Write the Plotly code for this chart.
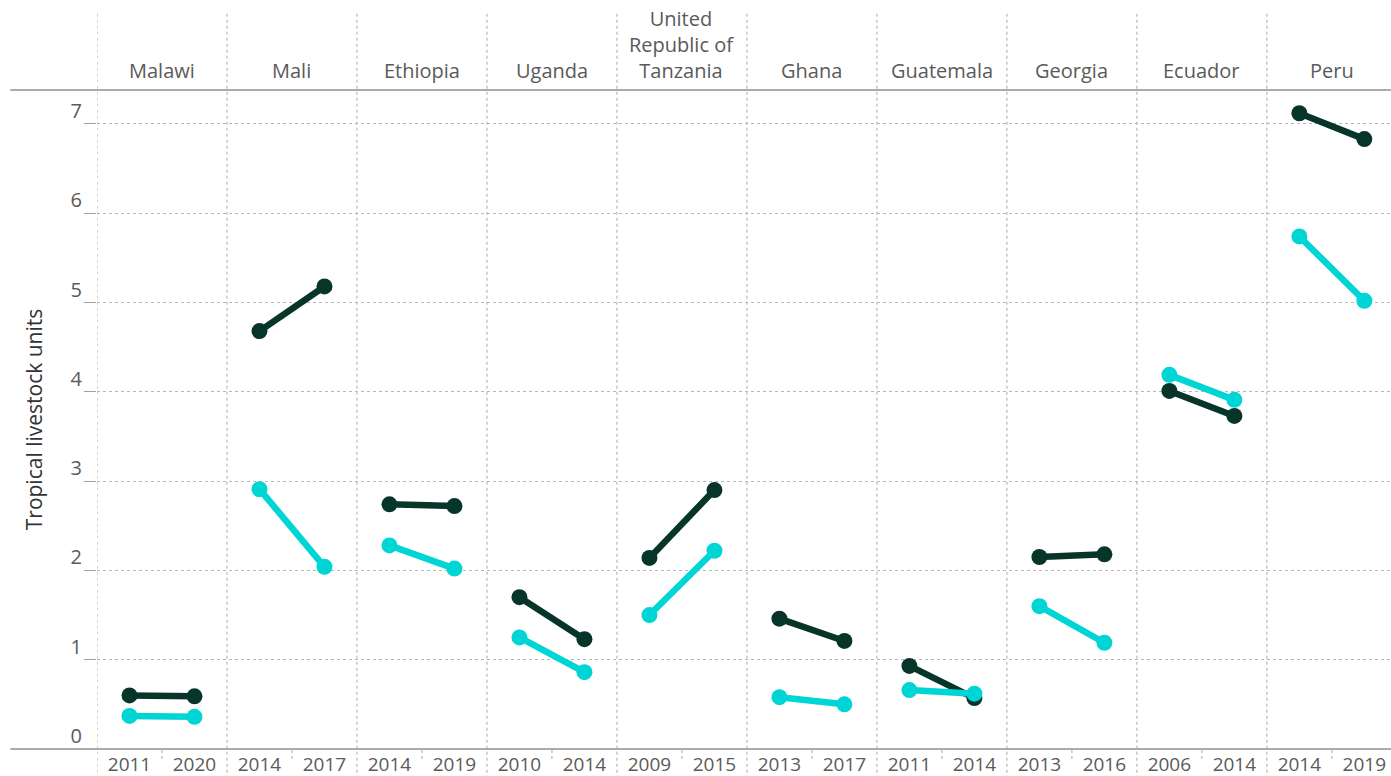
import plotly.graph_objects as go

# Countries and the two survey years shown for each
countries = ["Malawi", "Mali", "Ethiopia", "Uganda", "United<br>Republic of<br>Tanzania",
             "Ghana", "Guatemala", "Georgia", "Ecuador", "Peru"]
year_first = ["2011", "2014", "2014", "2010", "2009", "2013", "2011", "2013", "2006", "2014"]
year_last = ["2020", "2017", "2019", "2014", "2015", "2017", "2014", "2016", "2014", "2019"]

# Tropical livestock units per household (two series)
dark_first = [0.60, 4.68, 2.74, 1.70, 2.14, 1.46, 0.93, 2.15, 4.01, 7.12]
dark_last = [0.59, 5.18, 2.72, 1.23, 2.90, 1.21, 0.57, 2.18, 3.73, 6.83]
cyan_first = [0.37, 2.91, 2.28, 1.25, 1.50, 0.58, 0.66, 1.60, 4.19, 5.74]
cyan_last = [0.36, 2.04, 2.02, 0.86, 2.22, 0.50, 0.62, 1.19, 3.91, 5.02]

DARK = "#07352a"
CYAN = "#00d5d5"
GRID = "#b8b8b8"
TEXT = "#5a5a5a"
FONT = "Open Sans"

n = len(countries)


def segments(first, last):
    xs, ys = [], []
    for i in range(n):
        xs += [2 * i, 2 * i + 1, None]
        ys += [first[i], last[i], None]
    return xs, ys


fig = go.Figure()
for first, last, color in [(dark_first, dark_last, DARK), (cyan_first, cyan_last, CYAN)]:
    xs, ys = segments(first, last)
    fig.add_trace(go.Scatter(
        x=xs, y=ys, mode="lines+markers",
        line=dict(color=color, width=6.5),
        marker=dict(color=color, size=16),
        connectgaps=False, showlegend=False, hoverinfo="skip",
    ))

tickvals, ticktext = [], []
for i in range(n):
    tickvals += [2 * i, 2 * i + 1]
    ticktext += [year_first[i], year_last[i]]

shapes = []
# Panel separators spanning header and year labels
for i in range(n):
    shapes.append(dict(type="line", xref="x", yref="paper",
                       x0=2 * i - 0.5, x1=2 * i - 0.5, y0=-0.045, y1=1.118,
                       line=dict(color=GRID, width=1.2, dash="dot"), layer="below"))
    # short divider between the two years
    shapes.append(dict(type="line", xref="x", yref="paper",
                       x0=2 * i + 0.5, x1=2 * i + 0.5, y0=-0.015, y1=0,
                       line=dict(color=GRID, width=1.2, dash="dot"), layer="below"))
# Solid header and baseline rules
for yy in (0, 1):
    shapes.append(dict(type="line", xref="paper", yref="paper",
                       x0=-0.067, x1=1.0, y0=yy, y1=yy,
                       line=dict(color="#ababab", width=2)))

annotations = []
for i, name in enumerate(countries):
    annotations.append(dict(x=2 * i + 0.5, y=1.0, xref="x", yref="paper",
                            text=name, showarrow=False, yanchor="bottom", yshift=4,
                            font=dict(family=FONT, size=20, color=TEXT)))

fig.update_layout(
    width=1391, height=776,
    margin=dict(l=97, r=0, t=90, b=27),
    paper_bgcolor="white", plot_bgcolor="white",
    shapes=shapes, annotations=annotations,
    font=dict(family=FONT, color=TEXT),
    xaxis=dict(range=[-0.5, 19.41], tickvals=tickvals, ticktext=ticktext,
               showgrid=False, zeroline=False, showline=False, ticks="",
               automargin=False,
               tickfont=dict(size=19, color=TEXT), ticklabelstandoff=2),
    yaxis=dict(range=[0, 7.38], tickvals=list(range(8)),
               showgrid=True, gridcolor=GRID, griddash="dot", gridwidth=1.2,
               zeroline=False, showline=False, automargin=False,
               ticks="outside", ticklen=12, tickcolor="#a0a0a0", tickwidth=1.2,
               tickfont=dict(size=20, color=TEXT), ticklabelshift=-13,
               ticklabelstandoff=-2,
               title=dict(text="Tropical livestock units", standoff=22,
                          font=dict(size=21, color="#333333"))),
)

fig.write_html("out.html")
